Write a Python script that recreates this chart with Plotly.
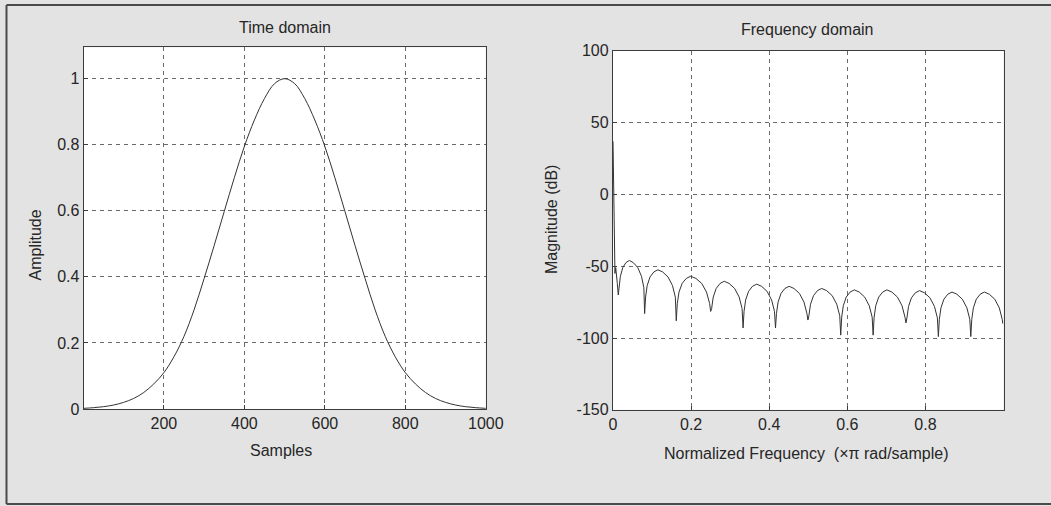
import plotly.graph_objects as go

# ---- Time-domain window samples (every 25th sample) ----
samples = [1, 25, 50, 75, 100, 125, 150, 175, 200, 225, 250, 275, 300, 325, 350,
           375, 400, 425, 450, 475, 500, 525, 550, 575, 600, 625, 650, 675, 700,
           725, 750, 775, 800, 825, 850, 875, 900, 925, 950, 975, 1000]
amplitude = [0.002, 0.004, 0.007, 0.012, 0.02, 0.032, 0.05, 0.076, 0.11, 0.158,
             0.22, 0.30, 0.395, 0.495, 0.598, 0.70, 0.795, 0.875, 0.94, 0.985,
             1.0,
             0.985, 0.94, 0.875, 0.795, 0.70, 0.598, 0.495, 0.395, 0.30, 0.22,
             0.158, 0.11, 0.076, 0.05, 0.032, 0.02, 0.012, 0.007, 0.004, 0.002]

# ---- Frequency-domain magnitude response ----
norm_freq = [0, 0.001, 0.002, 0.0035, 0.005, 0.007, 0.009, 0.011,
             0.0135,
             0.0155, 0.0189, 0.0250, 0.0331, 0.0419, 0.0520, 0.0635, 0.0729, 0.0790,
             0.081,
             0.0834, 0.0875, 0.0948, 0.1045, 0.1150, 0.1272, 0.1409, 0.1523, 0.1596,
             0.162,
             0.1646, 0.1690, 0.1770, 0.1875, 0.1990, 0.2122, 0.2271, 0.2394, 0.2474,
             0.250,
             0.2525, 0.2566, 0.2641, 0.2741, 0.2849, 0.2973, 0.3114, 0.3230, 0.3305,
             0.333,
             0.3355, 0.3396, 0.3471, 0.3571, 0.3679, 0.3803, 0.3944, 0.4060, 0.4135,
             0.416,
             0.4185, 0.4226, 0.4301, 0.4401, 0.4509, 0.4633, 0.4774, 0.4890, 0.4965,
             0.499,
             0.5015, 0.5057, 0.5133, 0.5234, 0.5343, 0.5469, 0.5612, 0.5729, 0.5805,
             0.583,
             0.5855, 0.5896, 0.5971, 0.6071, 0.6179, 0.6303, 0.6444, 0.6560, 0.6635,
             0.666,
             0.6685, 0.6727, 0.6803, 0.6904, 0.7013, 0.7139, 0.7282, 0.7399, 0.7475,
             0.750,
             0.7525, 0.7566, 0.7641, 0.7741, 0.7849, 0.7973, 0.8114, 0.8230, 0.8305,
             0.833,
             0.8355, 0.8396, 0.8471, 0.8571, 0.8679, 0.8803, 0.8944, 0.9060, 0.9135,
             0.916,
             0.9185, 0.9226, 0.9301, 0.9401, 0.9509, 0.9633, 0.9774, 0.9890, 0.9965,
             0.998]
magnitude_db = [37, 20, -10, -45, -55, -51, -55, -62,
                -70,
                -65, -57, -51, -47.5, -46, -47.5, -51, -57, -65,
                -83,
                -71.5, -63.5, -57.5, -54, -52.5, -54, -57.5, -63.5, -71.5,
                -88,
                -76, -68, -62, -58.5, -57, -58.5, -62, -68, -76,
                -81.5,
                -79.5, -71.5, -65.5, -62, -60.5, -62, -65.5, -71.5, -79.5,
                -93,
                -81.5, -73.5, -67.5, -64, -62.5, -64, -67.5, -73.5, -81.5,
                -93,
                -83, -75, -69, -65.5, -64, -65.5, -69, -75, -83,
                -87.5,
                -84.5, -76.5, -70.5, -67, -65.5, -67, -70.5, -76.5, -84.5,
                -98,
                -85.5, -77.5, -71.5, -68, -66.5, -68, -71.5, -77.5, -85.5,
                -98,
                -85.5, -77.5, -71.5, -68, -66.5, -68, -71.5, -77.5, -85.5,
                -89.5,
                -86, -78, -72, -68.5, -67, -68.5, -72, -78, -86,
                -99,
                -87, -79, -73, -69.5, -68, -69.5, -73, -79, -87,
                -99,
                -87, -79, -73, -69.5, -68, -69.5, -73, -79, -87,
                -90]

# ---- Tick labels ----
time_xticks = [200, 400, 600, 800, 1000]
time_yticks = [0, 0.2, 0.4, 0.6, 0.8, 1]
time_ytext = ["0", "0.2", "0.4", "0.6", "0.8", "1"]
freq_xticks = [0, 0.2, 0.4, 0.6, 0.8]
freq_xtext = ["0", "0.2", "0.4", "0.6", "0.8"]
freq_yticks = [-150, -100, -50, 0, 50, 100]
freq_ytext = ["-150", "-100", "-50", "0", "50", "100"]

W, H = 1051, 506
FONT = "Liberation Sans, Arial, sans-serif"
INK = "#262626"
LINE = "#333333"
GRID = "#6a6a6a"

fig = go.Figure()
fig.add_trace(go.Scatter(x=samples, y=amplitude, mode="lines",
                         line=dict(color=LINE, width=1, shape="spline", smoothing=1.0),
                         xaxis="x", yaxis="y", showlegend=False))
fig.add_trace(go.Scatter(x=norm_freq, y=magnitude_db, mode="lines",
                         line=dict(color=LINE, width=1),
                         xaxis="x2", yaxis="y2", showlegend=False))

def px(x):
    return x / W

def py(y):
    return 1 - y / H

axis_common = dict(showline=True, linecolor="#3c3c3c", linewidth=1.3, mirror=True,
                   showgrid=True, gridcolor=GRID, gridwidth=1, griddash="4px,4px",
                   zeroline=False, ticks="inside", ticklen=4, tickcolor="#3c3c3c",
                   automargin=False,
                   tickfont=dict(family=FONT, size=16, color=INK))

fig.update_layout(
    width=W, height=H,
    margin=dict(l=0, r=0, t=0, b=0, pad=0, autoexpand=False),
    paper_bgcolor="#e3e3e3",
    plot_bgcolor="#ffffff",
    font=dict(family=FONT, color=INK),
    xaxis=dict(domain=[px(83.8), px(485.8)], range=[1, 1000], anchor="y",
               tickmode="array", tickvals=time_xticks, **axis_common),
    yaxis=dict(domain=[py(409), py(47.3)], range=[0, 1.095], anchor="x",
               tickmode="array", tickvals=time_yticks, ticktext=time_ytext,
               **axis_common),
    xaxis2=dict(domain=[px(613), px(1003.6)], range=[0, 1], anchor="y2",
                tickmode="array", tickvals=freq_xticks, ticktext=freq_xtext,
                **axis_common),
    yaxis2=dict(domain=[py(409.8), py(50.8)], range=[-150, 100], anchor="x2",
                tickmode="array", tickvals=freq_yticks, ticktext=freq_ytext,
                **axis_common),
)

# Titles and axis labels
labels = [
    ("Time domain", 284.5, 27, 0),
    ("Frequency domain", 807, 29, 0),
    ("Samples", 281, 450, 0),
    ("Normalized Frequency  (×π rad/sample)", 806, 453, 0),
    ("Amplitude", 34.5, 245, -90),
    ("Magnitude (dB)", 552, 220, -90),
]
for text, x, y, ang in labels:
    fig.add_annotation(text=text, x=px(x), y=py(y), xref="paper", yref="paper",
                       showarrow=False, textangle=ang, xanchor="center", yanchor="middle",
                       font=dict(family=FONT, size=16, color=INK))

# Figure frame
frame = dict(type="line", xref="paper", yref="paper",
             line=dict(color="#4a4a4a", width=2))
fig.add_shape(x0=px(6.5), x1=px(6.5), y0=py(5), y1=py(504), **frame)
fig.add_shape(x0=px(6.5), x1=1, y0=py(5), y1=py(5), **frame)
fig.add_shape(x0=px(6.5), x1=1, y0=py(504), y1=py(504), **frame)

# Page without body margins so the figure fills the window exactly
fig.write_html("out.html",
               post_script="document.body.style.margin='0';"
                           "document.body.style.overflow='hidden';")
